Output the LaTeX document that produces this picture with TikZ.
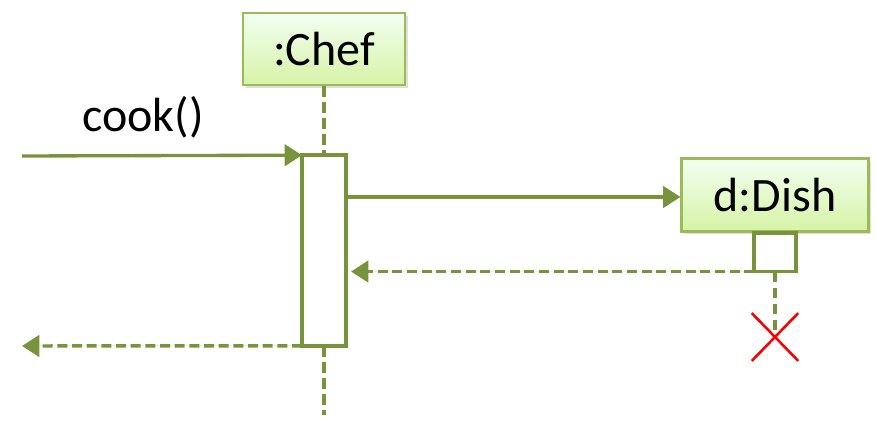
\documentclass[tikz,border=0pt]{standalone}
\usepackage{fontspec}
\setmainfont{Carlito}
\usepackage{xcolor}
\usetikzlibrary{arrows.meta,shapes,shadows,positioning,calc}

\definecolor{olive}{HTML}{77933C}
\definecolor{boxline}{HTML}{9BBB59}

\begin{document}
\begin{tikzpicture}[
    x=0.75pt, y=-0.75pt,
    every node/.style={font=\fontsize{36}{43}\selectfont},
    object/.style={rectangle, draw=boxline, line width=1.8pt, top color=green!5!white, bottom color={rgb,255:red,214;green,243;blue,166}, drop shadow={opacity=0.25, shadow xshift=2pt, shadow yshift=-2pt}, inner sep=0pt},
    activation/.style={rectangle, draw=olive, line width=2.8pt, fill=white, inner sep=0pt, outer sep=0pt},
    lifeline/.style={draw=olive, line width=3.2pt, dash pattern=on 8pt off 4pt},
    call/.style={-{Triangle[length=13pt, width=16pt]}, draw=olive, fill=olive, line width=2.5pt},
    reply/.style={-{Triangle[length=13pt, width=16pt]}, draw=olive, fill=olive, line width=2.6pt, dash pattern=on 7.5pt off 3.5pt}
]
    \useasboundingbox (0,0) rectangle (877,427);

    % objects
    \node[object, minimum width=121.5pt, minimum height=54pt] (chef) at (324,49) {:Chef};
    \node[object, minimum width=140pt, minimum height=55pt] (dish) at (775,195) {d:Dish};

    % activations
    \node[activation, minimum width=33pt, minimum height=143pt] (chefact) at (324,250.5) {};
    \node[activation, minimum width=31pt, minimum height=29pt, anchor=north] (dishact) at (dish.south) {};

    % free ends
    \coordinate (caller) at (22,156);
    \coordinate (back) at (22,346);
    \coordinate (chefend) at (324,415);
    \node[cross out, draw=red, line width=1.7pt, minimum width=33pt, minimum height=34pt, inner sep=0pt] (kill) at (775,337) {};

    % lifelines
    \draw[lifeline] (chef.south) -- (chefact.north);
    \draw[lifeline] (chefact.south) -- (chefend);
    \draw[lifeline] (dishact.south) -- (kill.center);
    \node[cross out, draw=red, line width=1.7pt, minimum width=33pt, minimum height=34pt, inner sep=0pt] at (kill) {};

    % messages
    \draw[call] (caller) -- (chefact.north west);
    \node at (143,117) (cooklabel) {cook()};
    \draw[call] (chefact.east |- 0,197) -- (dish.west |- 0,197);
    \draw[reply] (dishact.south west) -- ($(chefact.east |- dishact.south west)+(5,0)$);
    \draw[reply] (chefact.south west) -- (back);
\end{tikzpicture}
\end{document}
